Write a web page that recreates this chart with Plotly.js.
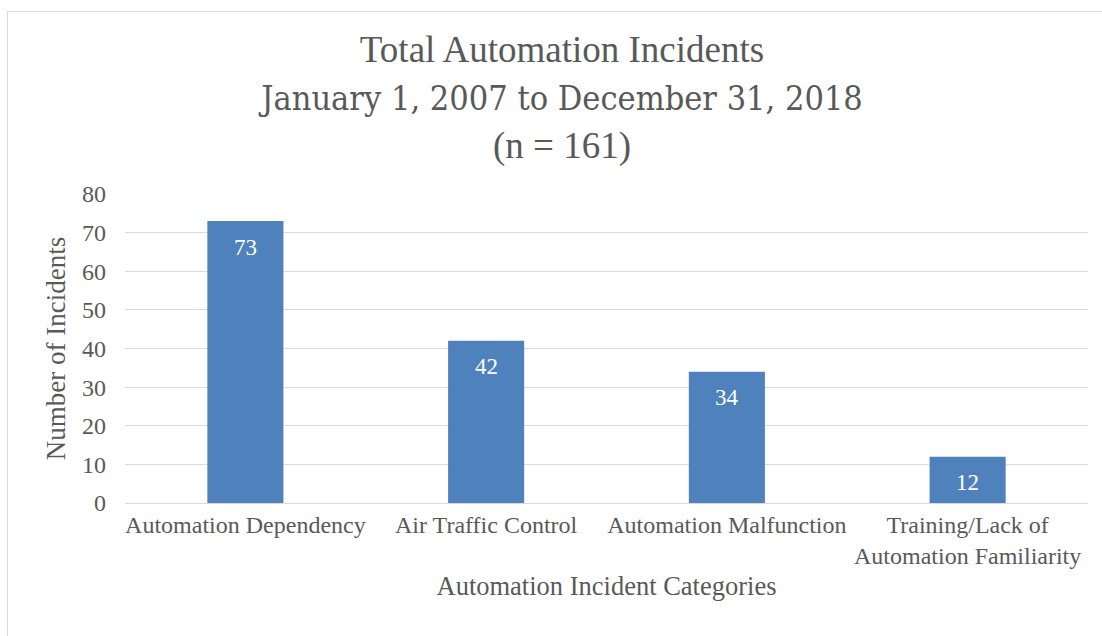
<!DOCTYPE html>
<html>
<head>
<meta charset="utf-8">
<script src="https://cdn.plot.ly/plotly-3.0.1.min.js"></script>
<style>
  html, body { margin: 0; padding: 0; background: #fff; }
  #frame { position: absolute; left: 7px; top: 11px; width: 1110px; height: 640px; border: 1px solid #d9d9d9; box-sizing: border-box; }
  #chart { position: absolute; left: 0; top: 0; width: 1102px; height: 636px; }
</style>
</head>
<body>
<div id="frame"></div>
<div id="chart"></div>
<script>
const categories = ["Automation Dependency", "Air Traffic Control", "Automation Malfunction", "Training/Lack of<br>Automation Familiarity"];
const incidents = [73, 42, 34, 12];
const yTicks = [0, 10, 20, 30, 40, 50, 60, 70, 80];
const titleLines = ["Total Automation Incidents", "January 1, 2007 to December 31, 2018", "(n = 161)"];

const serif = "Liberation Serif, Times New Roman, serif";
const grey = "#595959";

const trace = {
  type: "bar",
  x: categories,
  y: incidents,
  marker: { color: "#4f81bd" },
  hoverinfo: "none"
};

const annotations = incidents.map((v, i) => ({
  x: categories[i], y: v, xref: "x", yref: "y",
  text: String(v), showarrow: false, yshift: -26,
  font: { family: serif, size: 23, color: "#ffffff" }
}));

const layout = {
  width: 1102, height: 636,
  paper_bgcolor: "rgba(0,0,0,0)", plot_bgcolor: "rgba(0,0,0,0)",
  margin: { l: 125, r: 14, t: 194, b: 133 },
  bargap: 0.684,
  showlegend: false,
  title: {
    text: titleLines[0] + "<br><span style=\"font-family:'DejaVu Serif Condensed','DejaVu Serif',serif;font-size:34px\">" + titleLines[1] + "</span><br>" + titleLines[2],
    font: { family: serif, size: 37, color: grey },
    x: 0.51, xanchor: "center", y: 0.903, yanchor: "top"
  },
  xaxis: {
    type: "category",
    tickfont: { family: serif, size: 24, color: grey },
    showgrid: false, zeroline: false,
    showline: true, linecolor: "#d9d9d9", linewidth: 1,
    ticks: "",
    title: { text: "Automation Incident Categories", font: { family: serif, size: 26.5, color: grey }, standoff: 8 }
  },
  yaxis: {
    range: [0, 80],
    tickvals: yTicks,
    ticktext: yTicks.map(String),
    tickfont: { family: serif, size: 24, color: grey },
    ticklabelstandoff: 18,
    showgrid: true, gridcolor: "#d9d9d9", gridwidth: 1,
    zeroline: false, showline: false, ticks: "",
    title: { text: "Number of Incidents", font: { family: serif, size: 27, color: grey }, standoff: 8 }
  },
  annotations: annotations
};

Plotly.newPlot("chart", [trace], layout, { displayModeBar: false, staticPlot: true });
</script>
</body>
</html>
